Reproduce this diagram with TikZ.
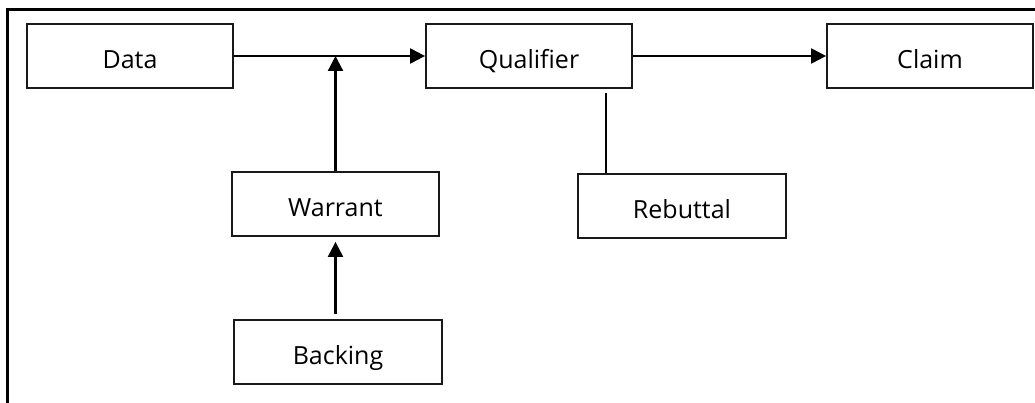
\documentclass[tikz,border=0pt]{standalone}
\usepackage{fontspec}
\setmainfont{Open Sans}
\usetikzlibrary{arrows.meta}
\begin{document}
\begin{tikzpicture}[x=1pt,y=-1pt,
  box/.style={draw=black!90,line width=1.8pt,minimum width=206pt,minimum height=64pt,
    inner sep=0pt,text height=25pt,text depth=0pt,font=\fontsize{25}{29}\selectfont},
  link/.style={line width=2.2pt,-{Triangle[length=15pt,width=15pt]}},
  plain/.style={line width=1.8pt}]
  \useasboundingbox (0,0) rectangle (1035,403);
  % outer frame, only top and left edges visible
  \draw[line width=3pt] (7.5,403) -- (7.5,9.5) -- (1035,9.5);
  % boxes
  \node[box] (data) at (130,56) {Data};
  \node[box] (qual) at (529,56) {Qualifier};
  \node[box] (claim) at (930,56) {Claim};
  \node[box,minimum width=207pt] (warrant) at (335.5,204) {Warrant};
  \node[box,minimum width=208pt] (backing) at (338,352) {Backing};
  \node[box,minimum width=208pt] (rebuttal) at (682,206) {Rebuttal};
  % connectors
  \draw[link] (data.east) -- (qual.west);
  \draw[link] (qual.east) -- (claim.west);
  \draw[link] (warrant.north) -- (warrant.north |- data.east);
  \draw[link,shorten <=5pt,shorten >=5pt] (backing.north -| warrant.south) -- (warrant.south);
  \coordinate (rtop) at ([xshift=29pt]rebuttal.north west);
  \draw[plain] (rtop) -- ([yshift=-4pt]rtop |- qual.south);
\end{tikzpicture}
\end{document}
